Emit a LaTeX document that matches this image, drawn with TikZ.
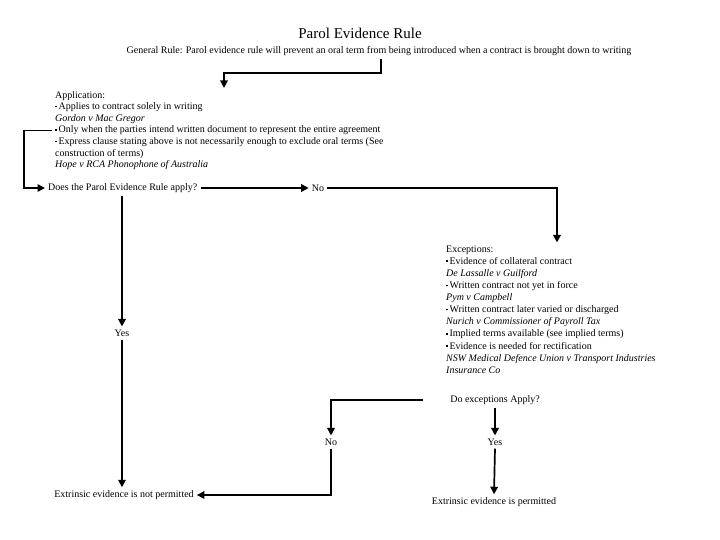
\documentclass[tikz,border=0pt]{standalone}
\usepackage{fontspec}
\setmainfont{Liberation Serif}
\usetikzlibrary{arrows.meta,positioning}
\newcommand{\bul}{\raisebox{0.5ex}{\rule{1.7pt}{1.7pt}}\,}

\begin{document}
\begin{tikzpicture}[x=1pt, y=-1pt,
  txt/.style={font=\fontsize{10}{11.6}\selectfont, inner sep=3pt},
  blk/.style={txt, align=left, anchor=west},
  arr/.style={draw, line width=1.7pt, -{Triangle[length=7.5pt,width=7.5pt]}},
]
\useasboundingbox (0,0) rectangle (720,540);
% Heading
\node[font=\fontsize{15}{18}\selectfont] (title) at (360,33) {Parol Evidence Rule};
\node[txt] (general) at (379,51) {General Rule: Parol evidence rule will prevent an oral term from being introduced when a contract is brought down to writing};

% Blocks
\node[blk] (app) at (52,130.5) {Application:\\
  \bul Applies to contract solely in writing\\
  \textit{Gordon v Mac Gregor}\\
  \bul Only when the parties intend written document to represent the entire agreement\\
  \bul Express clause stating above is not necessarily enough to exclude oral terms (See\\
  construction of terms)\\
  \textit{Hope v RCA Phonophone of Australia}};
\node[blk, font=\fontsize{10}{12.1}\selectfont] (exc) at (443,309.5) {Exceptions:\\
  \bul Evidence of collateral contract\\
  \textit{De Lassalle v Guilford}\\
  \bul Written contract not yet in force\\
  \textit{Pym v Campbell}\\
  \bul Written contract later varied or discharged\\
  \textit{Nurich v Commissioner of Payroll Tax}\\
  \bul Implied terms available (see implied terms)\\
  \bul Evidence is needed for rectification\\
  \textit{NSW Medical Defence Union v Transport Industries}\\
  \textit{Insurance Co}};

% Questions and answers
\node[txt, anchor=west] (does) at (45,188) {Does the Parol Evidence Rule apply?};
\node[txt] (no1) at (318,188) {No};
\node[txt] (yes1) at (122,333) {Yes};
\node[txt] (notperm) at (124,495) {Extrinsic evidence is not permitted};
\node[txt, minimum width=144pt] (doexc) at (495,400) {Do exceptions Apply?};
\node[txt] (no2) at (331,442) {No};
\node[txt] (yes2) at (495,442) {Yes};
\node[txt] (perm) at (494,502) {Extrinsic evidence is permitted};

% Connectors
\draw[arr] ([xshift=2]general.south) -- ++(0,14) -| ([xshift=172]app.north west);
\draw[arr] (app.west) -- ++(-28,0) |- (does.west);
\draw[arr] (does.east) -- (no1.west);
\draw[arr] (no1.east) -| ([xshift=114]exc.north west);
\draw[arr] (yes1.north |- does.south) -- (yes1.north);
\draw[arr] (yes1.south) -- (yes1.south |- notperm.north);
\draw[arr] (doexc.west) -| (no2.north);
\draw[arr] (no2.south) |- (notperm.east);
\draw[arr] (doexc.south) -- (yes2.north);
\draw[arr] (yes2.south) -- (perm.north);
\end{tikzpicture}
\end{document}
